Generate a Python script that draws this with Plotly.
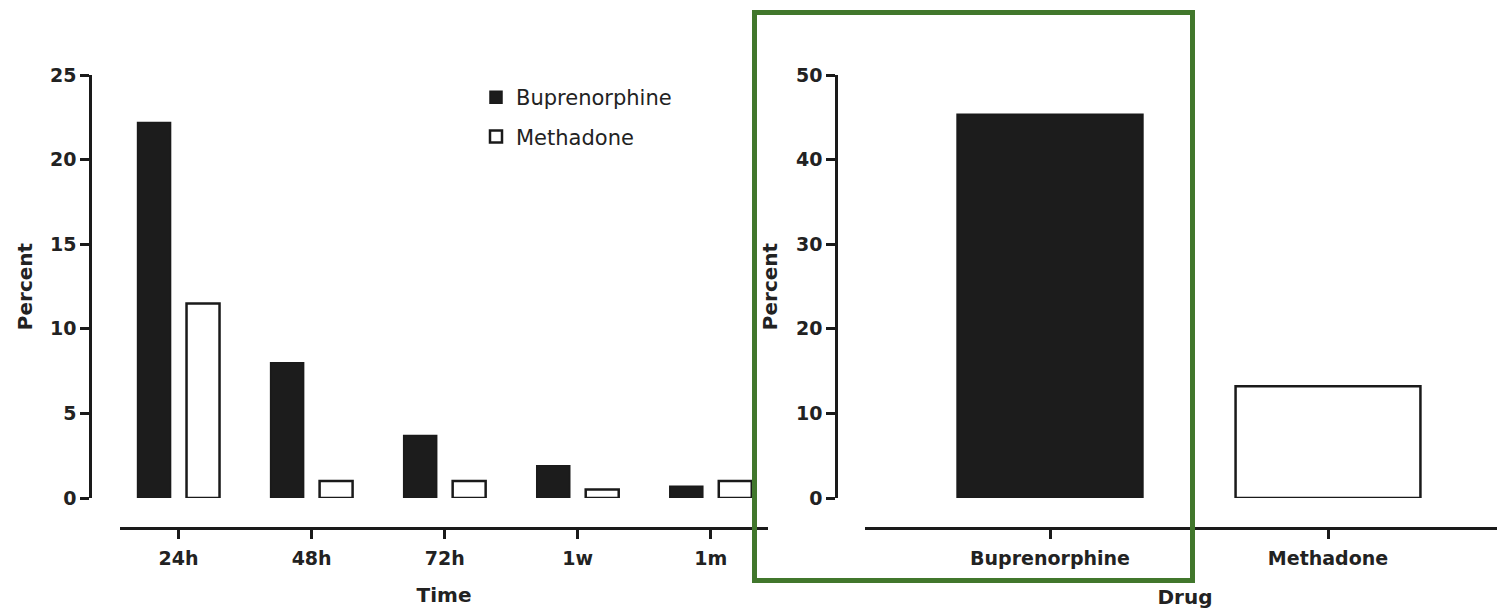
import plotly.graph_objects as go

# ---- data ----
time_labels = ["24h", "48h", "72h", "1w", "1m"]
bup_time = [22.2, 8.0, 3.7, 1.9, 0.7]
meth_time = [11.5, 1.0, 1.0, 0.5, 1.0]

drug_labels = ["Buprenorphine", "Methadone"]
drug_values = [45.3, 13.2]

left_yticks = [0, 5, 10, 15, 20, 25]
right_yticks = [0, 10, 20, 30, 40, 50]

# ---- layout helpers (window pixel -> paper; page body has an 8px margin) ----
W, H = 1505, 610
OFF = 8


def px(x):
    return (x - OFF) / W


def py(y):
    return 1 - (y - OFF) / H


DARK = "#1c1c1c"
INK = "#1a1a1a"
FONT = "DejaVu Sans"

fig = go.Figure()
fig.add_trace(go.Bar(
    x=time_labels, y=bup_time, name="Buprenorphine", legendgroup="a",
    marker=dict(color=DARK, line=dict(color=INK, width=1.5)),
    offset=-0.308, width=0.248, xaxis="x", yaxis="y"))
fig.add_trace(go.Bar(
    x=time_labels, y=meth_time, name="Methadone", legendgroup="b",
    marker=dict(color="white", line=dict(color=INK, width=2.5)),
    offset=0.06, width=0.248, xaxis="x", yaxis="y"))
fig.add_trace(go.Bar(
    x=drug_labels, y=drug_values, showlegend=False,
    marker=dict(color=[DARK, "white"], line=dict(color=INK, width=2.5)),
    width=0.665, xaxis="x2", yaxis="y2"))

tickfont = dict(family=FONT, size=19, color="#222", weight="bold")
titlefont = dict(family=FONT, size=20, color="#222", weight="bold")
common = dict(showgrid=False, zeroline=False, showline=True, linecolor=INK,
              linewidth=2.5, ticks="outside", ticklen=9, tickwidth=2.5,
              tickcolor=INK, tickfont=tickfont, automargin=False,
              fixedrange=True)

fig.update_layout(
    width=W, height=H,
    margin=dict(l=0, r=0, t=0, b=0),
    paper_bgcolor="white", plot_bgcolor="white",
    barmode="group",
    xaxis=dict(domain=[px(120), px(768)], range=[-0.44, 4.43],
               anchor="free", position=py(528), ticklabelstandoff=3,
               title=dict(text="Time", font=titlefont, standoff=20), **common),
    yaxis=dict(domain=[py(498), py(75)], range=[0, 25], tickvals=left_yticks,
               anchor="free", position=px(90),
               title=dict(text="Percent", font=titlefont, standoff=10), **common),
    xaxis2=dict(domain=[px(865), px(1505)], range=[-0.6655, 1.6367],
                anchor="free", position=py(528), ticklabelstandoff=3,
                title=dict(text="Drug", font=titlefont, standoff=22), **common),
    yaxis2=dict(domain=[py(498), py(75)], range=[0, 50], tickvals=right_yticks,
                anchor="free", position=px(836),
                title=dict(text="Percent", font=titlefont, standoff=11), **common),
    legend=dict(x=px(476), y=py(77), xanchor="left", yanchor="top",
                font=dict(family=FONT, size=21, color="#222"),
                bgcolor="rgba(0,0,0,0)", traceorder="grouped",
                tracegroupgap=9),
    shapes=[dict(type="rect", xref="paper", yref="paper",
                 x0=px(754.5), x1=px(1192.5), y0=py(580.5), y1=py(12.5),
                 line=dict(color="#41772c", width=5),
                 fillcolor="rgba(0,0,0,0)", layer="above")],
)

fig.write_html("out.html")
